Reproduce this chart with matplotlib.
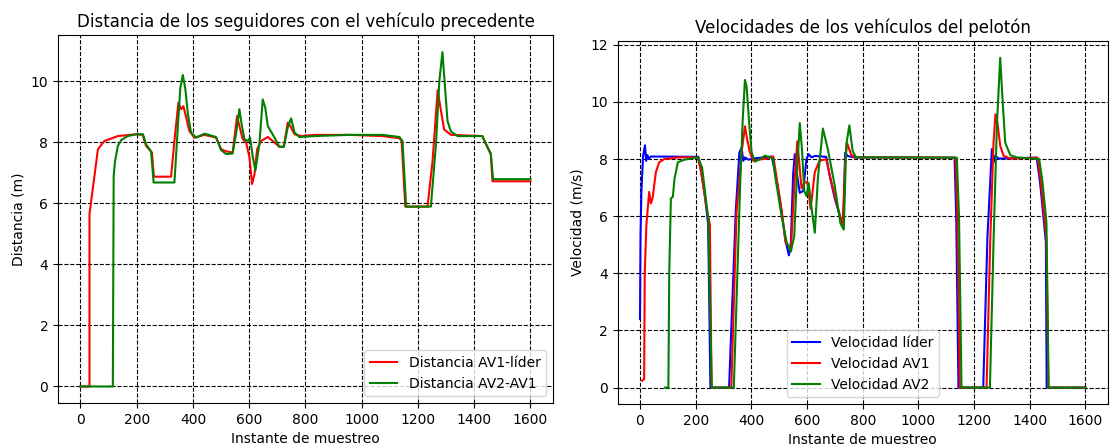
import matplotlib
matplotlib.use("Agg")
import matplotlib.pyplot as plt

# distancias
t_d1 = [0, 32, 32, 62, 85, 133, 198, 221, 233, 254, 261, 322, 334, 348, 358, 366, 376, 387, 405,
        441, 482, 500, 518, 541, 557, 565, 577, 589, 601, 610, 619, 628, 642, 666, 690, 707, 723,
        737, 746, 761, 784, 832, 956, 1074, 1134, 1142, 1155, 1234, 1252, 1270, 1282, 1293, 1317,
        1429, 1447, 1459, 1465, 1600]
d1 = [0, 0, 5.65, 7.77, 8.04, 8.2, 8.26, 8.24, 7.88, 7.66, 6.87, 6.87, 8.04, 9.29, 9.08, 9.18, 8.8,
      8.37, 8.15, 8.24, 8.15, 7.77, 7.7, 7.66, 8.86, 8.53, 8.1, 7.99, 7.5, 6.63, 6.96, 7.77, 8.04,
      8.17, 7.99, 7.85, 7.85, 8.64, 8.53, 8.26, 8.2, 8.24, 8.24, 8.2, 8.13, 8.04, 5.89, 5.89, 7.39,
      9.7, 9.02, 8.42, 8.24, 8.2, 7.83, 7.6, 6.72, 6.72]

t_d2 = [0, 115, 118, 123, 133, 145, 168, 198, 222, 233, 251, 260, 334, 346, 355, 364, 373, 382, 393,
        411, 441, 482, 500, 518, 541, 553, 565, 573, 583, 595, 603, 613, 622, 636, 648, 657, 666,
        690, 707, 723, 737, 749, 761, 778, 832, 956, 1074, 1134, 1145, 1158, 1246, 1264, 1276, 1287,
        1305, 1317, 1341, 1429, 1447, 1459, 1467, 1600]
d2 = [0, 0, 6.9, 7.39, 7.88, 8.07, 8.2, 8.26, 8.26, 7.93, 7.7, 6.68, 6.68, 8.48, 9.78, 10.2, 9.73,
      8.91, 8.32, 8.15, 8.28, 8.17, 7.74, 7.61, 7.63, 8.26, 9.08, 8.59, 8.1, 8.04, 8.15, 7.5, 7.07,
      7.93, 9.4, 9.13, 8.53, 8.15, 7.85, 7.85, 8.48, 8.78, 8.32, 8.17, 8.2, 8.24, 8.24, 8.17, 8.04,
      5.89, 5.89, 7.93, 10.0, 10.95, 8.7, 8.35, 8.2, 8.2, 7.85, 7.63, 6.79, 6.79]

# velocidades
t_vl = [0, 2, 5, 11, 18, 22, 27, 31, 39, 210, 218, 233, 245, 253, 320, 344, 357, 365, 371, 377, 389,
        407, 473, 485, 503, 523, 535, 542, 550, 556, 566, 574, 586, 598, 606, 616, 628, 669, 681,
        699, 722, 731, 737, 746, 770, 1130, 1136, 1144, 1233, 1248, 1264, 1270, 1276, 1288, 1425,
        1437, 1449, 1458, 1461, 1600]
vl = [2.4, 5.36, 6.85, 8.1, 8.48, 7.94, 8.14, 8.0, 8.09, 8.08, 7.66, 6.74, 5.7, 0, 0, 6.16, 8.23, 8.4,
      7.94, 8.06, 7.98, 8.02, 8.09, 7.55, 6.54, 5.13, 4.63, 5.08, 7.44, 8.17, 7.33, 6.82, 6.88, 8.0,
      8.17, 8.06, 8.11, 8.08, 7.44, 6.65, 5.87, 5.87, 8.22, 8.11, 8.06, 8.05, 6.0, 0, 0, 5.25, 8.35,
      7.88, 8.12, 8.02, 8.05, 7.19, 6.02, 5.1, 0, 0]

t_v1 = [8, 15, 17, 23, 33, 39, 45, 57, 69, 87, 136, 208, 220, 239, 251, 257, 328, 347, 357, 365, 377,
        385, 395, 407, 425, 455, 479, 491, 509, 523, 542, 556, 565, 571, 580, 590, 601, 613, 628,
        645, 669, 687, 710, 728, 737, 744, 758, 770, 1133, 1140, 1149, 1245, 1258, 1270, 1277, 1284,
        1294, 1306, 1330, 1428, 1440, 1452, 1460, 1467, 1600]
v1 = [0.24, 0.3, 3.98, 5.7, 6.85, 6.45, 6.62, 7.54, 7.89, 8.0, 8.06, 8.06, 7.54, 6.28, 5.7, 0, 0,
      6.15, 7.3, 8.23, 9.15, 8.69, 8.23, 7.94, 7.98, 8.02, 8.09, 7.33, 6.2, 5.08, 4.85, 7.33, 8.62,
      8.0, 6.99, 7.16, 7.21, 6.26, 7.55, 7.94, 8.0, 7.21, 6.31, 5.7, 7.89, 8.56, 8.17, 8.06, 8.05,
      6.0, 0, 0, 5.1, 8.58, 9.57, 9.28, 8.47, 8.12, 8.02, 8.05, 7.2, 6.0, 5.2, 0, 0]

t_v2 = [90, 102, 105, 111, 118, 124, 136, 160, 208, 223, 245, 258, 337, 359, 369, 377, 383, 393, 401,
        413, 431, 449, 478, 485, 509, 527, 542, 554, 566, 574, 582, 590, 598, 606, 616, 628, 639,
        657, 675, 699, 720, 732, 741, 752, 764, 776, 1138, 1146, 1155, 1257, 1270, 1282, 1294, 1303,
        1312, 1330, 1353, 1434, 1446, 1460, 1468, 1600]
v2 = [0, 0, 3.98, 6.62, 6.68, 7.31, 7.89, 7.98, 8.06, 7.71, 5.93, 0, 0, 6.85, 9.38, 10.77, 10.54,
      9.15, 8.23, 7.91, 8.0, 8.12, 8.02, 7.44, 5.98, 5.08, 4.76, 5.3, 7.89, 9.26, 8.34, 6.88, 6.71,
      7.16, 6.31, 5.42, 7.33, 9.07, 8.34, 7.1, 5.75, 5.53, 8.51, 9.18, 8.28, 8.06, 8.05, 6.0, 0, 0,
      5.1, 9.16, 11.55, 9.98, 8.58, 8.14, 8.06, 8.0, 7.19, 5.79, 0, 0]

fig = plt.figure(figsize=(11.11, 4.48), dpi=100)
ax1 = fig.add_axes([0.0522, 0.100, 0.4455, 0.821])
ax2 = fig.add_axes([0.556, 0.098, 0.441, 0.810])

ax1.plot(t_d1, d1, color="red", label="Distancia AV1-líder")
ax1.plot(t_d2, d2, color="green", label="Distancia AV2-AV1")
ax1.set_title("Distancia de los seguidores con el vehículo precedente")
ax1.set_xlabel("Instante de muestreo")
ax1.set_ylabel("Distancia (m)")
ax1.grid(True, color="k", linestyle="--")
ax1.legend(loc="lower right")

ax2.plot(t_vl, vl, color="blue", label="Velocidad líder")
ax2.plot(t_v1, v1, color="red", label="Velocidad AV1")
ax2.plot(t_v2, v2, color="green", label="Velocidad AV2")
ax2.set_title("Velocidades de los vehículos del pelotón")
ax2.set_xlabel("Instante de muestreo")
ax2.set_ylabel("Velocidad (m/s)")
ax2.grid(True, color="k", linestyle="--")
ax2.legend(loc="lower center")

fig.savefig("out.png")
